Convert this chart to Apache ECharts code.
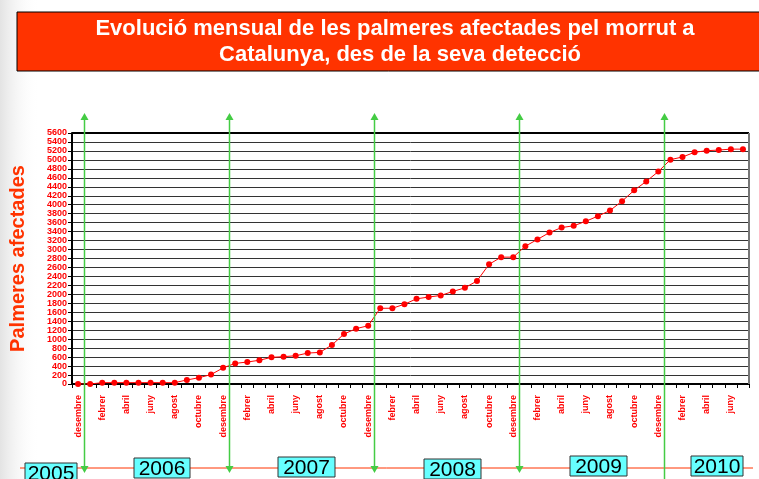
<!DOCTYPE html>
<html><head><meta charset="utf-8">
<script src="https://cdn.jsdelivr.net/npm/echarts@6/dist/echarts.min.js"></script>
<style>html,body{margin:0;padding:0;background:#fff}#c{width:759px;height:479px}</style>
</head><body><div id="c"></div>
<script>
const monthNames = ['gener','febrer','març','abril','maig','juny','juliol','agost','setembre','octubre','novembre','desembre'];
// Dec 2005 .. Jul 2010
const categories = [];
(function(){ let m = 11; for (let i = 0; i < 56; i++) { categories.push(monthNames[m]); m = (m + 1) % 12; } })();
const palmeres = [0,0,30,30,30,30,30,30,30,90,140,210,360,460,490,530,595,610,630,690,705,870,1115,1235,1300,1690,1690,1780,1900,1940,1975,2065,2145,2300,2670,2830,2830,3075,3225,3380,3490,3530,3630,3745,3870,4080,4320,4520,4740,5005,5065,5170,5205,5220,5240,5240];
const yearStartIdx = [1,13,25,37,49];
const yearLabels = ['2005','2006','2007','2008','2009','2010'];
const yearBoxes = [[25,463,52],[134,458,56],[278,457,57],[424,459,57],[570,456,57],[691,456,52]];

(function(){
const chart = echarts.init(document.getElementById('c'));
const red = '#FF0000';
chart.setOption({
  backgroundColor: '#fff',
  animation: false,
  grid: { left: 72, right: 10, top: 133, bottom: 95, show: false },
  xAxis: {
    type: 'category', data: categories, boundaryGap: true,
    axisLine: { lineStyle: { color: '#000', width: 2 } },
    axisTick: { show: true, length: 4, lineStyle: { color: '#000' }, interval: 0 },
    axisLabel: { interval: 1, rotate: 90, color: red, fontFamily: 'Arial, Liberation Sans', fontWeight: 'bold', fontSize: 9, margin: 11 },
    splitLine: { show: false }
  },
  yAxis: {
    type: 'value', min: 0, max: 5600, interval: 200,
    name: 'Palmeres afectades', nameLocation: 'middle', nameGap: 44,
    nameTextStyle: { color: '#FF3300', fontFamily: 'Arial, Liberation Sans', fontWeight: 'bold', fontSize: 20 },
    axisLine: { show: true, lineStyle: { color: '#000', width: 2 } },
    axisTick: { show: true, length: 4, lineStyle: { color: '#000' } },
    axisLabel: { color: red, fontFamily: 'Arial, Liberation Sans', fontWeight: 'bold', fontSize: 9, margin: 5, formatter: v => String(v) },
    splitLine: { show: true, lineStyle: { color: '#333', width: 1 } }
  },
  series: [{
    type: 'line', data: palmeres, symbol: 'circle', symbolSize: 6,
    lineStyle: { color: red, width: 1 }, itemStyle: { color: red }, z: 5
  }]
});

function px(i){ return chart.convertToPixel({xAxisIndex:0}, i); }
const g = [];
g.push({ type:'rect', z:-10, shape:{x:0,y:0,width:40,height:479}, style:{ fill: new echarts.graphic.LinearGradient(0,0,1,0,[{offset:0,color:'rgba(200,200,200,0.5)'},{offset:1,color:'rgba(255,255,255,0)'}]) } });
g.push({ type:'rect', shape:{x:17,y:12,width:760,height:59}, style:{ fill:'#FF3300', stroke:'#000', lineWidth:1 } });
g.push({ type:'text', x:395, y:29, style:{ text:'Evolució mensual de les palmeres afectades pel morrut a', fill:'#fff', font:'bold 22px Arial, Liberation Sans', align:'center', verticalAlign:'middle' } });
g.push({ type:'text', x:400, y:55, style:{ text:'Catalunya, des de la seva detecció', fill:'#fff', font:'bold 22px Arial, Liberation Sans', align:'center', verticalAlign:'middle' } });
const yTop = chart.convertToPixel({yAxisIndex:0}, 5600), yBot = chart.convertToPixel({yAxisIndex:0}, 0);
const half = (px(1)-px(0))/2;
const xL = px(0) - half, xR = px(55) + half;
g.push({ type:'line', z:10, shape:{x1:xL,y1:yTop,x2:xR,y2:yTop}, style:{stroke:'#000', lineWidth:2} });
g.push({ type:'line', z:10, shape:{x1:xR,y1:yTop,x2:xR,y2:yBot}, style:{stroke:'#777', lineWidth:2} });
g.push({ type:'line', z:1, shape:{x1:20,y1:468,x2:753,y2:468}, style:{stroke:'#FF3300', lineWidth:1} });
yearStartIdx.forEach((idx, k) => {
  const x = Math.round((px(idx-1)+px(idx))/2) + 0.5;
  const yb = k === 4 ? 490 : 473;
  g.push({ type:'line', z:20, shape:{x1:x,y1:119,x2:x,y2:yb-5}, style:{stroke:'#44CC44', lineWidth:1.5} });
  g.push({ type:'polygon', z:20, shape:{points:[[x,113],[x-4,120],[x+4,120]]}, style:{fill:'#44CC44'} });
  g.push({ type:'polygon', z:20, shape:{points:[[x,yb],[x-4,yb-7],[x+4,yb-7]]}, style:{fill:'#44CC44'} });
});
yearLabels.forEach((t, k) => {
  const b = yearBoxes[k];
  g.push({ type:'rect', z:15, shape:{x:b[0],y:b[1],width:b[2],height:20}, style:{fill:'#66FFFF', stroke:'#333', lineWidth:1} });
  g.push({ type:'text', z:16, x:b[0]+b[2]/2, y:b[1]+11, style:{ text:t, fill:'#000', font:'21px Arial, Liberation Sans', align:'center', verticalAlign:'middle' } });
});
chart.setOption({ graphic: g });
})();
</script></body></html>
